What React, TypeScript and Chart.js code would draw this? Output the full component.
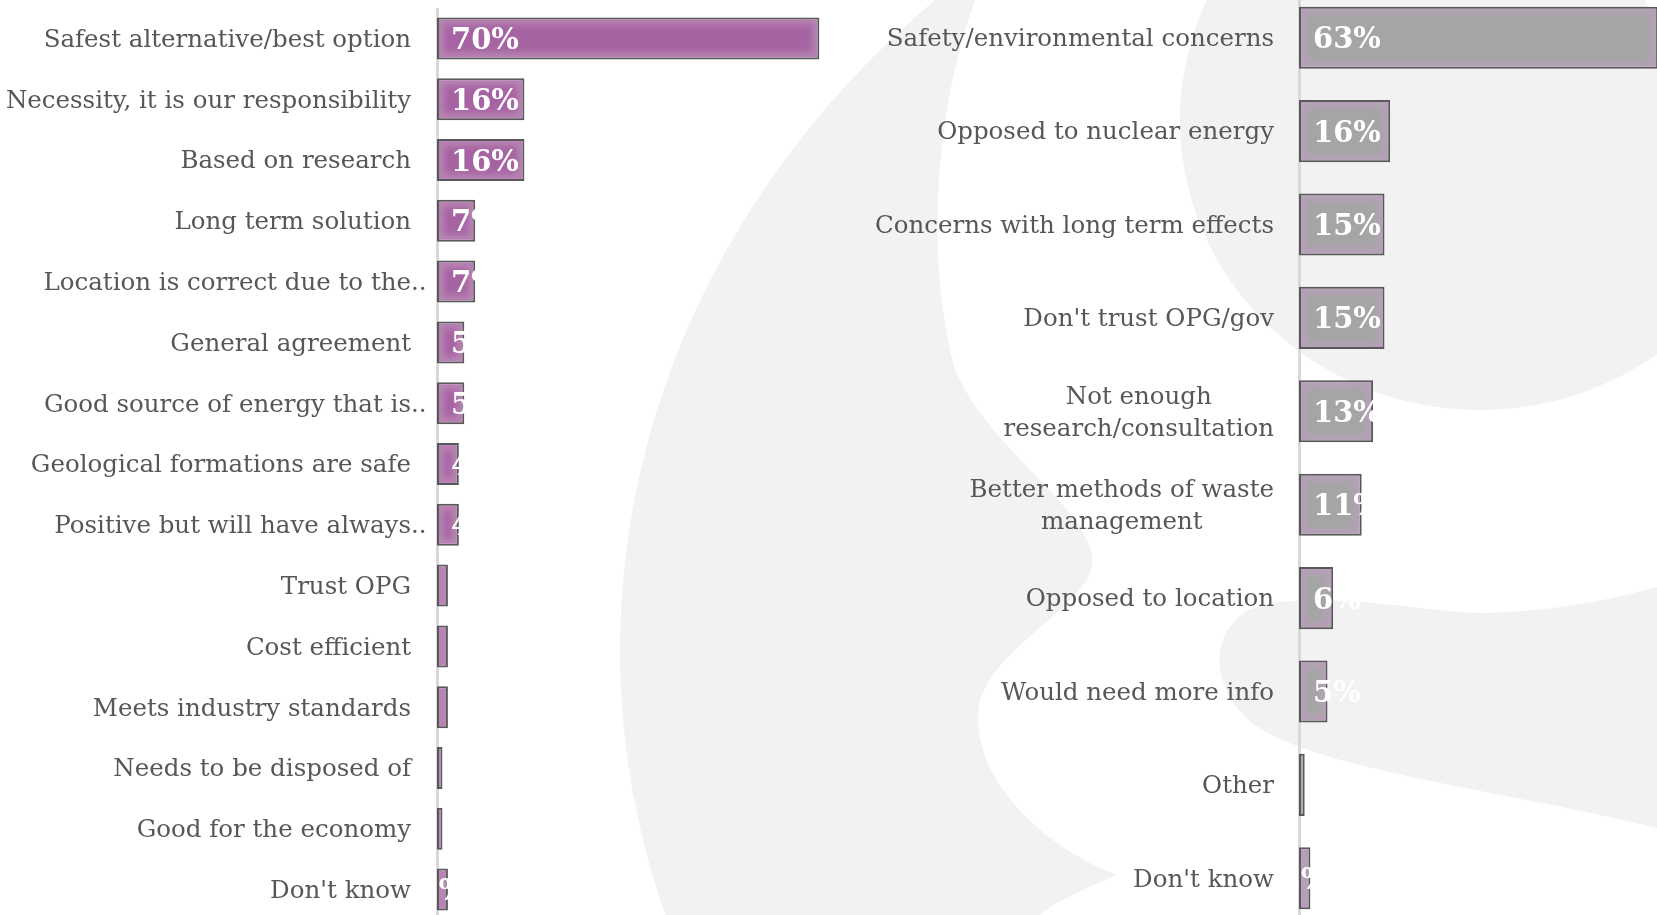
import React, { useEffect, useRef } from "react";
import { Chart, registerables } from "chart.js";

Chart.register(...registerables);

// ---------------- DATA ----------------
const leftCategories: (string | string[])[] = [
  "Safest alternative/best option",
  "Necessity, it is our responsibility",
  "Based on research",
  "Long term solution",
  "Location is correct due to the..",
  "General agreement",
  "Good source of energy that is..",
  "Geological formations are safe",
  "Positive but will have always..",
  "Trust OPG",
  "Cost efficient",
  "Meets industry standards",
  "Needs to be disposed of",
  "Good for the economy",
  "Don't know",
];
const leftValues = [70, 16, 16, 7, 7, 5, 5, 4, 4, 2, 2, 2, 1, 1, 2];

const rightCategories: (string | string[])[] = [
  "Safety/environmental concerns",
  "Opposed to nuclear energy",
  "Concerns with long term effects",
  "Don't trust OPG/gov",
  ["Not enough", "research/consultation"],
  ["Better methods of waste", "management"],
  "Opposed to location",
  "Would need more info",
  "Other",
  "Don't know",
];
const rightValues = [63, 16, 15, 15, 13, 11, 6, 5, 1, 2];

const FONT = '"DejaVu Serif", Georgia, serif';

type Side = {
  labels: (string | string[])[];
  values: number[];
  edge: string;
  center: string;
  xMax: number;
  padL: number;
  padR: number;
  barPct: number;
  labelPad: number;
  labelSize: number;
  valueSize: number;
};

function makePlugin(s: Side) {
  return {
    id: "customDraw",
    afterDatasetsDraw(chart: any) {
      const ctx = chart.ctx as CanvasRenderingContext2D;
      const meta = chart.getDatasetMeta(0);
      const bw = 2;
      meta.data.forEach((bar: any, i: number) => {
        const p = bar.getProps(["x", "y", "base", "height"], true);
        const x0 = Math.min(p.base, p.x);
        const x1 = Math.max(p.base, p.x);
        const y0 = p.y - p.height / 2;
        const y1 = p.y + p.height / 2;
        const iw = x1 - x0 - 2 * bw;
        const ih = y1 - y0 - 2 * bw;
        if (iw > 10) {
          ctx.save();
          ctx.beginPath();
          ctx.rect(x0 + bw, y0 + bw, iw, ih);
          ctx.clip();
          ctx.filter = "blur(3px)";
          ctx.fillStyle = s.center;
          ctx.fillRect(x0 + bw + 5, y0 + bw + 5, iw - 10, ih - 10);
          ctx.restore();
        }
        // value labels
        const v = s.values[i];
        const last = i === s.values.length - 1;
        if (v >= 3 || last) {
          ctx.save();
          ctx.font = `bold ${s.valueSize}px ${FONT}`;
          ctx.fillStyle = "#ffffff";
          ctx.textBaseline = "middle";
          if (last) {
            ctx.textAlign = "center";
            ctx.fillText(`${v}%`, (x0 + x1) / 2, p.y + 3);
          } else {
            ctx.textAlign = "left";
            ctx.fillText(`${v}%`, x0 + 14, p.y + 3);
          }
          ctx.restore();
        }
      });
    },
    afterDraw(chart: any) {
      const ctx = chart.ctx as CanvasRenderingContext2D;
      const yS = chart.scales.y;
      const right = chart.chartArea.left - s.labelPad;
      const lh = s.labelSize * 1.3;
      ctx.save();
      ctx.font = `${s.labelSize}px ${FONT}`;
      ctx.fillStyle = "#575757";
      ctx.textBaseline = "middle";
      s.labels.forEach((lab, i) => {
        const lines = Array.isArray(lab) ? lab : [lab];
        const yc = yS.getPixelForValue(i) + 2;
        const widths = lines.map((l) =>
          ctx.measureText(l.endsWith("..") ? l.slice(0, -2) : l).width
        );
        const blockW = Math.max(...widths);
        const cx = right - blockW / 2;
        lines.forEach((l, k) => {
          const y = yc + (k - (lines.length - 1) / 2) * lh;
          if (l.endsWith("..")) {
            ctx.textAlign = "right";
            ctx.fillText(l.slice(0, -2), right, y);
            ctx.textAlign = "left";
            ctx.fillText("..", right, y);
          } else {
            ctx.textAlign = "center";
            ctx.fillText(l, cx, y);
          }
        });
      });
      ctx.restore();
    },
  };
}

function BarPanel(props: { side: Side; style: React.CSSProperties; w: number; h: number }) {
  const ref = useRef<HTMLCanvasElement | null>(null);
  const { side, w, h } = props;
  useEffect(() => {
    if (!ref.current) return;
    const chart = new Chart(ref.current, {
      type: "bar",
      data: {
        labels: side.labels as any,
        datasets: [
          {
            data: side.values,
            backgroundColor: side.edge,
            borderColor: "#595959",
            borderWidth: 2,
            borderSkipped: false,
            barPercentage: side.barPct,
            categoryPercentage: 1,
          },
        ],
      },
      options: {
        indexAxis: "y",
        responsive: false,
        maintainAspectRatio: false,
        animation: false,
        layout: { padding: { left: side.padL, right: side.padR, top: 0, bottom: 0 } },
        plugins: { legend: { display: false }, tooltip: { enabled: false } },
        scales: {
          x: { display: false, min: 0, max: side.xMax },
          y: {
            display: true,
            grid: { display: false, drawTicks: false },
            ticks: { display: false },
            border: { display: true, color: "#d9d9d9", width: 3 },
            afterFit: (sc: any) => {
              sc.width = 0;
            },
          },
        },
      },
      plugins: [makePlugin(side)],
    } as any);
    return () => chart.destroy();
  }, []);
  return <canvas ref={ref} width={w} height={h} style={{ ...props.style, width: w, height: h }} />;
}

const leftSide: Side = {
  labels: leftCategories,
  values: leftValues,
  edge: "#b784b3",
  center: "#a663a2",
  xMax: 80,
  padL: 437,
  padR: 6,
  barPct: 0.69,
  labelPad: 26,
  labelSize: 24.5,
  valueSize: 29,
};

const rightSide: Side = {
  labels: rightCategories,
  values: rightValues,
  edge: "#b6a0b9",
  center: "#a5a5a5",
  xMax: 70,
  padL: 439,
  padR: 22,
  barPct: 0.665,
  labelPad: 25,
  labelSize: 24.5,
  valueSize: 29,
};

export default function App() {
  return (
    <div
      style={{
        position: "fixed",
        left: 0,
        top: 0,
        width: 1657,
        height: 915,
        overflow: "hidden",
        background: "#ffffff",
      }}
    >
      <svg
        width={1657}
        height={915}
        style={{ position: "absolute", left: 0, top: 0 }}
      >
        <ellipse cx={1642} cy={650} rx={1022} ry={900} fill="#f2f2f2" />
        <path
          d="M 975 0 C 935 110, 925 260, 955 370 C 990 450, 1080 500, 1092 555 C 1100 600, 1000 640, 980 700 C 965 780, 1050 850, 1117 875 C 1080 890, 1050 905, 1040 915 L 1657 915 L 1657 828 C 1500 790, 1320 770, 1255 725 C 1215 695, 1205 640, 1245 612 C 1300 585, 1420 612, 1480 613 C 1560 612, 1620 597, 1657 587 L 1657 0 Z"
          fill="#ffffff"
        />
        <ellipse cx={1480} cy={120} rx={300} ry={290} fill="#f2f2f2" />
        <circle cx={1760} cy={-60} r={130} fill="#ffffff" />
      </svg>
      <BarPanel side={leftSide} w={880} h={912} style={{ position: "absolute", left: 0, top: 8 }} />
      <BarPanel side={rightSide} w={860} h={934} style={{ position: "absolute", left: 860, top: -9 }} />
    </div>
  );
}
